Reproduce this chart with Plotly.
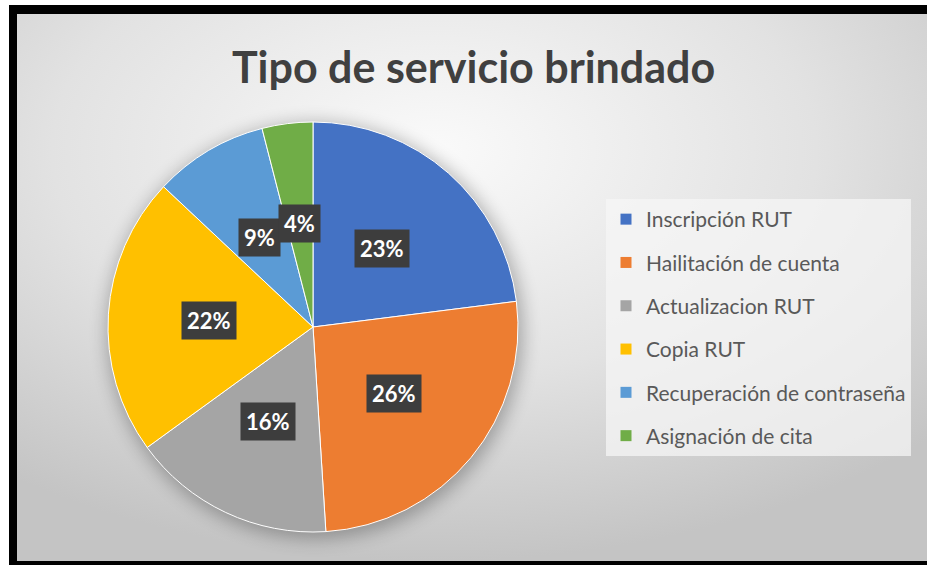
import base64
import math
import plotly.graph_objects as go

# ---- data ----
categories = ["Inscripción RUT", "Hailitación de cuenta", "Actualizacion RUT",
              "Copia RUT", "Recuperación de contraseña", "Asignación de cita"]
values = [23, 26, 16, 22, 9, 4]
colors = ["#4472C4", "#ED7D31", "#A5A5A5", "#FFC000", "#5B9BD5", "#70AD47"]
title_text = "Tipo de servicio brindado"

W, H = 927, 565
FONT = "Lato, 'Open Sans', sans-serif"

# pie geometry (pixels)
cx, cy, R = 313, 327, 205
dom_x = [(cx - R) / W, (cx + R) / W]
dom_y = [(H - cy - R) / H, (H - cy + R) / H]

# background svg: white margin, black frame (left/top/bottom), gray radial gradient, pie shadow
svg = f'''<svg xmlns="http://www.w3.org/2000/svg" width="{W}" height="{H}" viewBox="0 0 {W} {H}" preserveAspectRatio="none">
<defs>
<radialGradient id="g" cx="0.45" cy="0.25" r="0.75" fx="0.45" fy="0.25">
<stop offset="0" stop-color="#fafafa"/>
<stop offset="0.55" stop-color="#e2e2e2"/>
<stop offset="1" stop-color="#c4c4c4"/>
</radialGradient>
<filter id="b" x="-20%" y="-20%" width="140%" height="140%"><feGaussianBlur stdDeviation="9"/></filter>
</defs>
<rect x="0" y="0" width="{W}" height="{H}" fill="#ffffff"/>
<rect x="17" y="14" width="{W}" height="547" fill="url(#g)"/>
<rect x="9" y="5" width="{W}" height="9" fill="#000000"/>
<rect x="9" y="5" width="8" height="{H}" fill="#000000"/>
<rect x="9" y="561" width="{W}" height="10" fill="#000000"/>
<circle cx="{cx+2}" cy="{cy+4}" r="{R+3}" fill="#000" opacity="0.28" filter="url(#b)"/>
</svg>'''
src = "data:image/svg+xml;base64," + base64.b64encode(svg.encode()).decode()

fig = go.Figure()
fig.add_trace(go.Pie(
    labels=categories, values=values, sort=False, direction="clockwise",
    rotation=0, marker=dict(colors=colors, line=dict(color="white", width=1)),
    textinfo="none", hoverinfo="label+percent", showlegend=False,
    domain=dict(x=dom_x, y=dom_y),
))

# legend via dummy traces (for item spacing)
for i, (c, col) in enumerate(zip(categories, colors)):
    fig.add_trace(go.Scatter(
        x=[None], y=[None], mode="markers", name=c, legendgroup=f"g{i}",
        marker=dict(symbol="square", size=11, color=col), showlegend=True,
    ))

# percentage labels
annotations = []
total = sum(values)
cum = 0
for v in values:
    mid = (cum + v / 2) / total * 2 * math.pi
    cum += v
    px = cx + 0.51 * R * math.sin(mid)
    py = cy - 0.51 * R * math.cos(mid)
    txt = f"{round(v / total * 100)}%"
    annotations.append(dict(
        x=px / W, y=1 - py / H, xref="paper", yref="paper", text=f"<b>{txt}</b>",
        showarrow=False, font=dict(family=FONT, size=22, color="white"),
        bgcolor="#3d3d3d", borderpad=5, xanchor="center", yanchor="middle",
    ))

annotations.append(dict(
    x=473 / W, y=1 - 66 / H, xref="paper", yref="paper", text=f"<b>{title_text}</b>",
    showarrow=False, xanchor="center", yanchor="middle",
    font=dict(family=FONT, size=43, color="#404040"),
))

fig.update_layout(
    width=W, height=H, margin=dict(l=0, r=0, t=0, b=0),
    paper_bgcolor="#c8c8c8", plot_bgcolor="rgba(0,0,0,0)",
    xaxis=dict(visible=False), yaxis=dict(visible=False),
    images=[dict(source=src, xref="paper", yref="paper", x=0, y=1,
                 sizex=1, sizey=1, sizing="stretch", layer="below",
                 xanchor="left", yanchor="top")],
    annotations=annotations,
    legend=dict(x=606 / W, y=1 - 199 / H, xanchor="left", yanchor="top",
                bgcolor="rgba(245,245,245,0.75)", tracegroupgap=13,
                traceorder="grouped",
                font=dict(family=FONT, size=21, color="#595959"),
                itemclick=False, itemdoubleclick=False),
    hovermode=False,
)

fig.write_html(
    "out.html",
    config={"displayModeBar": False},
    post_script=("document.body.style.margin='0';"
                 "document.body.style.overflow='hidden';"
                 "document.documentElement.style.overflow='hidden';"),
)
